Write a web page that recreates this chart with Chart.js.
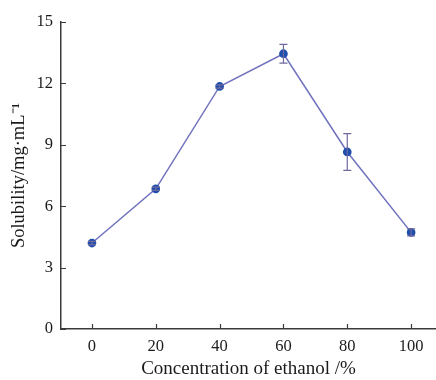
<!DOCTYPE html>
<html>
<head>
<meta charset="utf-8">
<script src="https://cdn.jsdelivr.net/npm/chart.js@4.4.1/dist/chart.umd.min.js"></script>
<style>
  html, body { margin: 0; padding: 0; background: #fff; }
  #wrap { width: 436px; height: 380px; }
</style>
</head>
<body>
<div id="wrap"><canvas id="solChart" width="436" height="380"></canvas></div>
<script>
// ethanol concentration (%) and measured solubility (mg/mL)
const concentration = [0, 20, 40, 60, 80, 100];
const solubility = [4.2, 6.85, 11.85, 13.45, 8.65, 4.72];
const errors = [0.08, 0.08, 0.08, 0.46, 0.9, 0.17];

const xTicks = [0, 20, 40, 60, 80, 100];
const yTicks = [0, 3, 6, 9, 12, 15];

const axisColor = '#3a3a3a';
const serif = "'Liberation Serif', 'Times New Roman', serif";

// inward tick marks + error bars, drawn from the scales
const extras = {
    id: 'extras',
    afterDatasetsDraw(chart){
        const ctx = chart.ctx;
        const xs = chart.scales.x;
        const ys = chart.scales.y;
        const area = chart.chartArea;

        ctx.save();
        ctx.strokeStyle = axisColor;
        ctx.lineWidth = 1.2;
        ctx.beginPath();
        xTicks.forEach(v => {
            const px = Math.round(xs.getPixelForValue(v)) + 0.5;
            ctx.moveTo(px, area.bottom);
            ctx.lineTo(px, area.bottom - 5);
        });
        yTicks.forEach(v => {
            const py = Math.round(ys.getPixelForValue(v)) + 0.5;
            ctx.moveTo(area.left, py);
            ctx.lineTo(area.left + 5, py);
        });
        ctx.stroke();

        ctx.strokeStyle = '#6f6a9e';
        ctx.lineWidth = 1.2;
        ctx.beginPath();
        concentration.forEach((c, i) => {
            const px = xs.getPixelForValue(c);
            const top = ys.getPixelForValue(solubility[i] + errors[i]);
            const bot = ys.getPixelForValue(solubility[i] - errors[i]);
            ctx.moveTo(px, top);
            ctx.lineTo(px, bot);
            ctx.moveTo(px - 4, top);
            ctx.lineTo(px + 4, top);
            ctx.moveTo(px - 4, bot);
            ctx.lineTo(px + 4, bot);
        });
        ctx.stroke();
        ctx.restore();
    }
};

new Chart(
    document.getElementById('solChart'),
    {
        type: 'line',
        data: {
            datasets: [{
                data: concentration.map((c, i) => ({ x: c, y: solubility[i] })),
                borderColor: '#7072bd',
                borderWidth: 1.5,
                pointBackgroundColor: '#1f4fae',
                pointBorderColor: '#1f4fae',
                pointRadius: 3.6,
                tension: 0
            }]
        },
        options: {
            responsive: false,
            animation: false,
            layout: { autoPadding: false, padding: { top: 22, right: 0, left: 0, bottom: 0 } },
            plugins: { legend: { display: false }, tooltip: { enabled: false } },
            scales: {
                x: {
                    type: 'linear',
                    min: -9.7,
                    max: 107.8,
                    afterBuildTicks: s => { s.ticks = xTicks.map(v => ({ value: v })); },
                    afterFit: s => { s.height = 51; s.paddingRight = 0; s.paddingLeft = 0; },
                    grid: { display: false, drawTicks: false },
                    border: { color: axisColor, width: 1.5 },
                    ticks: { color: '#1a1a1a', padding: 8, font: { family: serif, size: 16.5 } },
                    title: {
                        display: true,
                        text: 'Concentration of ethanol /%',
                        color: '#1a1a1a',
                        padding: { top: 1, bottom: 0 },
                        font: { family: serif, size: 19 }
                    }
                },
                y: {
                    min: 0,
                    max: 15,
                    afterBuildTicks: s => { s.ticks = yTicks.map(v => ({ value: v })); },
                    afterFit: s => { s.width = 61; },
                    grid: { display: false, drawTicks: false },
                    border: { color: axisColor, width: 1.5 },
                    ticks: { color: '#1a1a1a', padding: 8, font: { family: serif, size: 16.5 } },
                    title: {
                        display: true,
                        text: 'Solubility/mg·mL⁻¹',
                        color: '#1a1a1a',
                        padding: { top: 8, bottom: 0 },
                        font: { family: serif, size: 18.5 }
                    }
                }
            }
        },
        plugins: [extras]
    });
</script>
</body>
</html>
